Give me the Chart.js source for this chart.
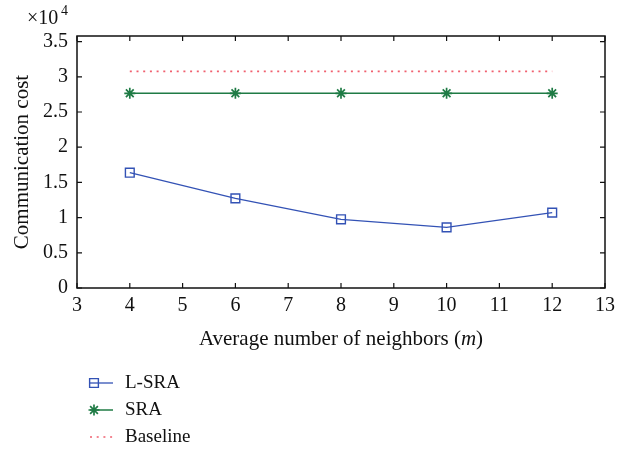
<!DOCTYPE html>
<html>
<head>
<meta charset="utf-8">
<script src="https://cdn.jsdelivr.net/npm/chart.js@4"></script>
<style>
  html, body { margin: 0; padding: 0; background: #fff; }
  #wrap { width: 632px; height: 449px; }
</style>
</head>
<body>
<div id="wrap"><canvas id="chart" width="632" height="449"></canvas></div>
<script>
const xValues = [4, 6, 8, 10, 12];
const lsra = [16380, 12740, 9760, 8620, 10700];
const sra = [27660, 27660, 27660, 27660, 27660];
const baseline = [30780, 30780, 30780, 30780, 30780];
const xTicks = [3, 4, 5, 6, 7, 8, 9, 10, 11, 12, 13];
const yTicks = [0, 5000, 10000, 15000, 20000, 25000, 30000, 35000];

const FONT = "'Liberation Serif', 'DejaVu Serif', serif";
const SIZE = 20;
const TITLE_SIZE = 21;
const toPts = ys => xValues.map((x, i) => ({ x: x, y: ys[i] }));

// box, inward ticks, titles and legend
const decor = {
  id: "decor",
  afterDraw(chart) {
    const ctx = chart.ctx;
    const a = chart.chartArea;
    const xs = chart.scales.x, ys = chart.scales.y;
    ctx.save();
    ctx.strokeStyle = "#111";
    ctx.lineWidth = 1.5;
    ctx.strokeRect(a.left, a.top, a.right - a.left, a.bottom - a.top);
    ctx.lineWidth = 1.2;
    ctx.beginPath();
    xTicks.forEach(v => {
      const px = xs.getPixelForValue(v);
      ctx.moveTo(px, a.bottom); ctx.lineTo(px, a.bottom - 5);
      ctx.moveTo(px, a.top); ctx.lineTo(px, a.top + 5);
    });
    yTicks.forEach(v => {
      const py = ys.getPixelForValue(v);
      ctx.moveTo(a.left, py); ctx.lineTo(a.left + 5, py);
      ctx.moveTo(a.right, py); ctx.lineTo(a.right - 5, py);
    });
    ctx.stroke();

    ctx.fillStyle = "#111";
    // y title
    ctx.save();
    ctx.translate(22, (a.top + a.bottom) / 2);
    ctx.rotate(-Math.PI / 2);
    ctx.font = TITLE_SIZE + "px " + FONT;
    ctx.textAlign = "center";
    ctx.textBaseline = "middle";
    ctx.fillText("Communication cost", 0, 0);
    ctx.restore();

    // x title with italic m
    const parts = [["Average number of neighbors (", ""], ["m", "italic "], [")", ""]];
    let total = 0;
    parts.forEach(p => { ctx.font = p[1] + TITLE_SIZE + "px " + FONT; total += ctx.measureText(p[0]).width; });
    let x0 = (a.left + a.right) / 2 - total / 2;
    ctx.textBaseline = "alphabetic";
    ctx.textAlign = "left";
    parts.forEach(p => {
      ctx.font = p[1] + TITLE_SIZE + "px " + FONT;
      ctx.fillText(p[0], x0, 345);
      x0 += ctx.measureText(p[0]).width;
    });

    // exponent label
    ctx.font = SIZE + "px " + FONT;
    ctx.fillText("\u00d710", 27, 24);
    ctx.font = "14px " + FONT;
    ctx.fillText("4", 61, 15);

    // legend
    const rows = [383, 410, 437];
    chart.data.datasets.forEach((ds, i) => {
      const y = rows[i];
      ctx.save();
      ctx.strokeStyle = ds.borderColor;
      ctx.fillStyle = "rgba(0,0,0,0)";
      ctx.lineWidth = ds.borderWidth;
      ctx.setLineDash(ds.borderDash || []);
      ctx.beginPath();
      ctx.moveTo(90, y); ctx.lineTo(113, y);
      ctx.stroke();
      ctx.setLineDash([]);
      if (ds.pointRadius > 0) {
        ctx.lineWidth = ds.pointBorderWidth;
        Chart.helpers.drawPoint(ctx, {
          pointStyle: ds.pointStyle, radius: ds.pointRadius, rotation: 0,
          borderWidth: ds.pointBorderWidth
        }, 94, y);
      }
      ctx.restore();
      ctx.fillStyle = "#111";
      ctx.font = "19px " + FONT;
      ctx.textBaseline = "middle";
      ctx.fillText(ds.label, 125, y);
    });
    ctx.restore();
  }
};

new Chart(document.getElementById("chart"), {
  type: "line",
  data: {
    datasets: [
      {
        label: "L-SRA",
        data: toPts(lsra),
        borderColor: "#3352b5",
        backgroundColor: "rgba(0,0,0,0)",
        borderWidth: 1.3,
        pointStyle: "rect",
        pointRadius: 6.2,
        pointBorderWidth: 1.4,
        pointBackgroundColor: "rgba(0,0,0,0)",
        pointBorderColor: "#3352b5",
        tension: 0
      },
      {
        label: "SRA",
        data: toPts(sra),
        borderColor: "#1f7b45",
        backgroundColor: "rgba(0,0,0,0)",
        borderWidth: 1.5,
        pointStyle: "star",
        pointRadius: 5.5,
        pointBorderWidth: 1.7,
        pointBorderColor: "#1f7b45",
        tension: 0
      },
      {
        label: "Baseline",
        data: toPts(baseline),
        borderColor: "#f0606f",
        backgroundColor: "rgba(0,0,0,0)",
        borderWidth: 1.6,
        borderDash: [2, 4.7],
        pointRadius: 0,
        tension: 0
      }
    ]
  },
  options: {
    responsive: false,
    animation: false,
    layout: { padding: { left: 0, right: 27, top: 36, bottom: 0 } },
    plugins: {
      legend: { display: false },
      tooltip: { enabled: false }
    },
    scales: {
      x: {
        type: "linear",
        min: 3,
        max: 13,
        afterFit: s => { s.height = 161; },
        afterBuildTicks: s => { s.ticks = xTicks.map(v => ({ value: v })); },
        grid: { display: false, drawTicks: false },
        border: { display: false },
        ticks: {
          color: "#111",
          padding: 6,
          font: { family: FONT, size: SIZE },
          maxRotation: 0
        }
      },
      y: {
        type: "linear",
        min: 0,
        max: 35800,
        afterFit: s => { s.width = 77; },
        afterBuildTicks: s => { s.ticks = yTicks.map(v => ({ value: v })); },
        grid: { display: false, drawTicks: false },
        border: { display: false },
        ticks: {
          color: "#111",
          padding: 9,
          font: { family: FONT, size: SIZE },
          callback: v => String(v / 10000)
        }
      }
    }
  },
  plugins: [decor]
});
</script>
</body>
</html>
